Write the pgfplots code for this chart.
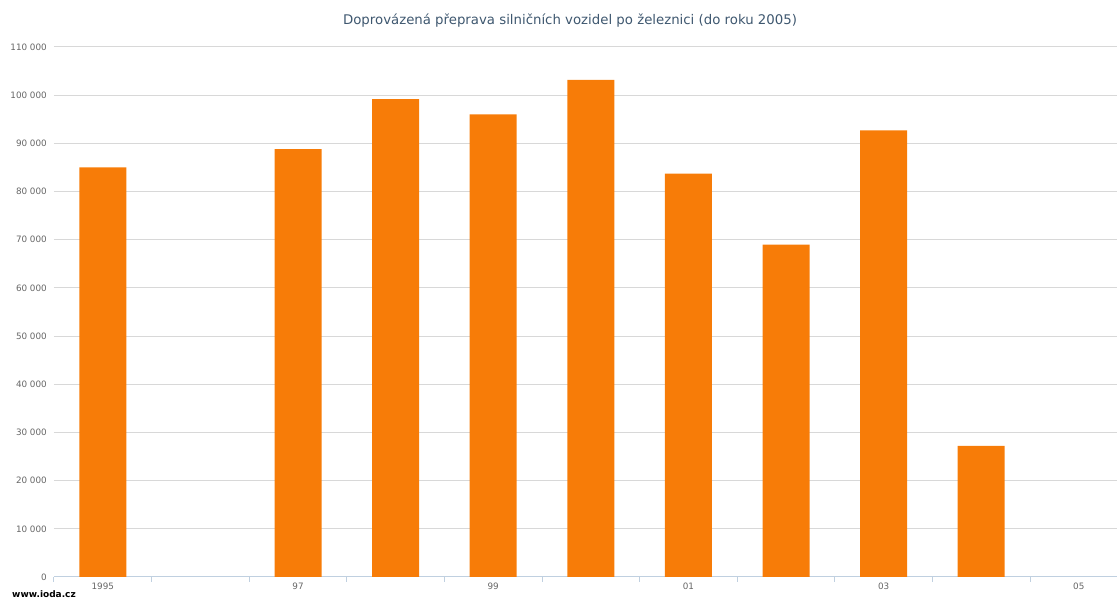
\documentclass[border=0pt]{standalone}
\usepackage{fontspec}
\setmainfont{DejaVu Sans}
\usepackage{pgfplots}
\pgfplotsset{compat=1.18}
\definecolor{barorange}{HTML}{F77C08}
\definecolor{titlecol}{HTML}{3E576F}
\definecolor{tickcol}{HTML}{666666}
\definecolor{gridcol}{HTML}{D8D8D8}
\definecolor{axisline}{HTML}{C0D0E0}
\begin{document}
\begin{tikzpicture}[x=1pt,y=1pt]
\path[use as bounding box] (0,0) rectangle (1117,599);
\begin{axis}[
  at={(54pt,22pt)}, anchor=south west,
  scale only axis, width=1063pt, height=530pt,
  xmin=-0.5, xmax=10.391, ymin=0, ymax=110000,
  ybar, bar width=47pt, bar shift=0pt,
  axis x line*=bottom, axis y line*=left,
  x axis line style={draw=axisline, line width=1pt, -},
  y axis line style={draw=none},
  xtick={0,2,4,6,8,10},
  xticklabels={1995,97,99,01,03,05},
  minor xtick={-0.5,0.5,1.5,2.5,3.5,4.5,5.5,6.5,7.5,8.5,9.5},
  major tick length=0pt, minor tick length=5pt, tick align=outside,
  xtick style={draw=axisline, line width=1pt},
  ytick={0,10000,20000,30000,40000,50000,60000,70000,80000,90000,100000,110000},
  yticklabels={0,10 000,20 000,30 000,40 000,50 000,60 000,70 000,80 000,90 000,100 000,110 000},
  ytick style={draw=none},
  ymajorgrids, grid style={draw=gridcol, line width=1pt},
  scaled y ticks=false,
  y tick label style={font=\fontsize{8.8}{10}\selectfont, text=tickcol, inner sep=0pt, anchor=east, xshift=-7pt},
  x tick label style={font=\fontsize{8.8}{10}\selectfont, text=tickcol, inner sep=0pt, anchor=north, yshift=-6pt},
  clip=false,
]
\addplot[fill=barorange, draw=none] coordinates {
  (0,85000) (2,88800) (3,99200) (4,96000) (5,103200)
  (6,83700) (7,69000) (8,92700) (9,27200)
};
\end{axis}
\node[text=titlecol, font=\fontsize{13.3}{16}\selectfont] at (570,578) {Doprovázená přeprava silničních vozidel po železnici (do roku 2005)};
\node[anchor=south west, inner sep=0pt, font=\bfseries\fontsize{9}{11}\selectfont] at (12,1.5) {www.ioda.cz};
\end{tikzpicture}
\end{document}
